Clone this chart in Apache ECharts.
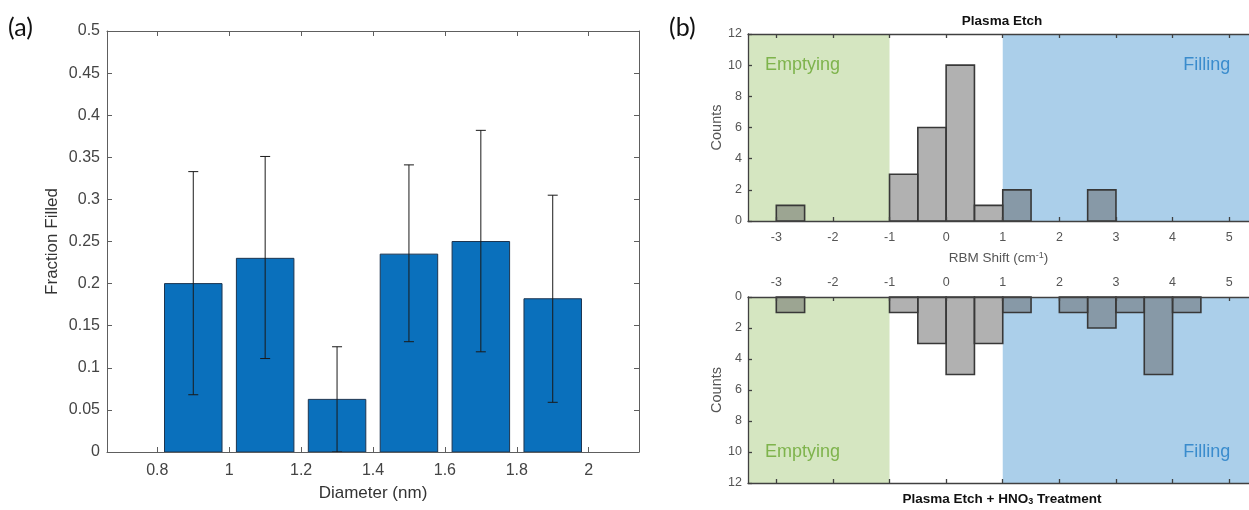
<!DOCTYPE html>
<html>
<head>
<meta charset="utf-8">
<script src="https://cdn.jsdelivr.net/npm/echarts@6/dist/echarts.min.js"></script>
<style>
  html, body { margin: 0; padding: 0; background: #fff; }
  #chart { width: 1249px; height: 510px; }
</style>
</head>
<body>
<div id="chart"></div>
<script>
// ---- Panel (a): fraction filled vs. tube diameter ----
const diameters      = [0.9, 1.1, 1.3, 1.5, 1.7, 1.9];
const fractionFilled = [0.2, 0.23, 0.0625, 0.235, 0.25, 0.182];
const errUpper       = [0.333, 0.351, 0.125, 0.341, 0.382, 0.305];
const errLower       = [0.068, 0.111, 0, 0.131, 0.119, 0.059];
const diameterTicks  = [0.8, 1, 1.2, 1.4, 1.6, 1.8, 2];

// ---- Panel (b): RBM shift histograms (bin start, 0.5 cm^-1 wide) ----
const etchBinStart = [-3, -1, -0.5, 0, 0.5, 1, 2.5];
const etchCounts   = [1, 3, 6, 10, 1, 2, 2];
const hno3BinStart = [-3, -1, -0.5, 0, 0.5, 1, 2, 2.5, 3, 3.5, 4];
const hno3Counts   = [1, 1, 3, 5, 3, 1, 1, 2, 1, 5, 1];
const shiftTicks   = [-3, -2, -1, 0, 1, 2, 3, 4, 5];
const regionNames  = ['Emptying', 'Filling'];
const regionStart  = [-3.5, 1];
const regionEnd    = [-1, 5.5];

const BIN = 0.5;
const BAR_W = 0.16;
const SHIFT_MIN = -3.5, SHIFT_MAX = 5.35;   // visible part of the shift axis
const FONT = '"Liberation Sans", Arial, sans-serif';

const regionFill = { Emptying: '#d5e6c1', Filling: '#abcfea' };
const regionText = { Emptying: '#7eb34c', Filling: '#3a8ccd' };

const chart = echarts.init(document.getElementById('chart'), null, { renderer: 'canvas' });

function histData(starts, counts) {
  return starts.map((s, i) => [s, s + BIN, counts[i]]);
}
const regionData = regionNames.map((n, i) => [regionStart[i], regionEnd[i], n]);

// Histogram bin: translucent grey box with dark outline
function renderBin(params, api) {
  const p0 = api.coord([api.value(0), 0]);
  const p1 = api.coord([api.value(1), api.value(2)]);
  return {
    type: 'rect',
    shape: {
      x: Math.min(p0[0], p1[0]), y: Math.min(p0[1], p1[1]),
      width: Math.abs(p1[0] - p0[0]), height: Math.abs(p1[1] - p0[1])
    },
    style: { fill: 'rgba(100,100,100,0.5)', stroke: '#383838', lineWidth: 1.6 }
  };
}

// Shaded Emptying / Filling band with its caption at count 10
function renderRegion(params, api) {
  const name = regionData[params.dataIndex][2];
  const a = api.coord([api.value(0), 0]);
  const b = api.coord([api.value(1), 12]);
  const left = name === 'Emptying';
  const tp = api.coord([left ? api.value(0) + 0.3 : api.value(1) - 0.48, 10]);
  return {
    type: 'group',
    children: [
      {
        type: 'rect',
        shape: { x: Math.min(a[0], b[0]), y: Math.min(a[1], b[1]),
                 width: Math.abs(b[0] - a[0]), height: Math.abs(b[1] - a[1]) },
        style: { fill: regionFill[name] }
      },
      {
        type: 'text',
        x: tp[0], y: tp[1],
        style: { text: name, fontFamily: FONT, fontSize: 18, fill: regionText[name],
                 align: left ? 'left' : 'right', verticalAlign: 'middle' }
      }
    ]
  };
}

function renderBar(params, api) {
  const x = api.value(0);
  const p0 = api.coord([x - BAR_W / 2, 0]);
  const p1 = api.coord([x + BAR_W / 2, api.value(1)]);
  return {
    type: 'rect',
    shape: { x: p0[0], y: p1[1], width: p1[0] - p0[0], height: p0[1] - p1[1] },
    style: { fill: '#0a70bc', stroke: '#1d3550', lineWidth: 1 }
  };
}

function renderErr(params, api) {
  const x = api.value(0);
  const lo = api.coord([x, api.value(1)]);
  const hi = api.coord([x, api.value(2)]);
  const cap = 5;
  const ls = { stroke: '#1a1a1a', lineWidth: 1 };
  return {
    type: 'group',
    children: [
      { type: 'line', shape: { x1: lo[0], y1: lo[1], x2: hi[0], y2: hi[1] }, style: ls },
      { type: 'line', shape: { x1: hi[0] - cap, y1: hi[1], x2: hi[0] + cap, y2: hi[1] }, style: ls },
      { type: 'line', shape: { x1: lo[0] - cap, y1: lo[1], x2: lo[0] + cap, y2: lo[1] }, style: ls }
    ]
  };
}

const axA = { lineStyle: { color: '#5e5e5e', width: 1 } };
const axB = { lineStyle: { color: '#404040', width: 1.3 } };

const shiftX = (gridIndex, pos, showLabels, withName) => ({
  type: 'value', gridIndex, position: pos, min: SHIFT_MIN, max: SHIFT_MAX, z: 10,
  axisLine: { show: true, onZero: false, ...axB },
  splitLine: { show: false },
  axisTick: { show: true, inside: true, length: 4, customValues: shiftTicks, lineStyle: { color: '#404040', width: 1.3 } },
  axisLabel: { show: showLabels, customValues: shiftTicks, margin: pos === 'top' ? 8 : 10,
               color: '#555', fontFamily: FONT, fontSize: 12.5 },
  name: withName ? '{n|RBM Shift (cm}{s|-1}{n|)}' : '',
  nameLocation: 'middle', nameGap: 30,
  nameTextStyle: { rich: {
    n: { fontFamily: FONT, fontSize: 13.5, color: '#555' },
    s: { fontFamily: FONT, fontSize: 9, color: '#555', verticalAlign: 'top', padding: [0, 0, 6, 0] }
  } }
});

const countY = (gridIndex, inverse) => ({
  type: 'value', gridIndex, min: 0, max: 12, interval: 2, inverse, z: 10,
  axisLine: { show: true, onZero: false, ...axB },
  splitLine: { show: false },
  axisTick: { show: true, inside: true, length: 4, lineStyle: { color: '#404040', width: 1.3 } },
  axisLabel: { margin: 6, color: '#555', fontFamily: FONT, fontSize: 12.5 },
  name: 'Counts', nameLocation: 'middle', nameGap: 24,
  nameTextStyle: { fontFamily: FONT, fontSize: 14.5, color: '#555' }
});

const option = {
  animation: false,
  backgroundColor: '#fff',
  grid: [
    { left: 107, top: 31, width: 532, height: 421 },
    { left: 748, top: 34, right: 0, height: 187 },
    { left: 748, top: 297, right: 0, height: 186 }
  ],
  xAxis: [
    {
      type: 'value', gridIndex: 0, position: 'bottom', min: 0.66, max: 2.14, z: 10,
      axisLine: { show: true, onZero: false, ...axA },
      splitLine: { show: false },
      axisTick: { show: true, inside: true, length: 5, customValues: diameterTicks, lineStyle: { color: '#5e5e5e' } },
      axisLabel: { customValues: diameterTicks, margin: 11, color: '#444', fontFamily: FONT, fontSize: 16 },
      name: 'Diameter (nm)', nameLocation: 'middle', nameGap: 33,
      nameTextStyle: { fontFamily: FONT, fontSize: 17, color: '#333' }
    },
    {
      type: 'value', gridIndex: 0, position: 'top', min: 0.66, max: 2.14, z: 10,
      axisLine: { show: true, onZero: false, ...axA },
      splitLine: { show: false },
      axisTick: { show: true, inside: true, length: 5, customValues: diameterTicks, lineStyle: { color: '#5e5e5e' } },
      axisLabel: { show: false }
    },
    shiftX(1, 'bottom', true, true),
    shiftX(1, 'top', false, false),
    shiftX(2, 'top', true, false),
    shiftX(2, 'bottom', false, false)
  ],
  yAxis: [
    {
      type: 'value', gridIndex: 0, position: 'left', min: 0, max: 0.5, interval: 0.05, z: 10,
      axisLine: { show: true, onZero: false, ...axA },
      splitLine: { show: false },
      axisTick: { show: true, inside: true, length: 5, lineStyle: { color: '#5e5e5e' } },
      axisLabel: { margin: 7, color: '#444', fontFamily: FONT, fontSize: 16 },
      name: 'Fraction Filled', nameLocation: 'middle', nameGap: 46,
      nameTextStyle: { fontFamily: FONT, fontSize: 17, color: '#333' }
    },
    {
      type: 'value', gridIndex: 0, position: 'right', min: 0, max: 0.5, interval: 0.05, z: 10,
      axisLine: { show: true, onZero: false, ...axA },
      splitLine: { show: false },
      axisTick: { show: true, inside: true, length: 5, lineStyle: { color: '#5e5e5e' } },
      axisLabel: { show: false }
    },
    countY(1, false),
    countY(2, true)
  ],
  series: [
    {
      type: 'custom', xAxisIndex: 0, yAxisIndex: 0, z: 2,
      renderItem: renderBar,
      data: diameters.map((d, i) => [d, fractionFilled[i]])
    },
    {
      type: 'custom', xAxisIndex: 0, yAxisIndex: 0, z: 3,
      renderItem: renderErr,
      data: diameters.map((d, i) => [d, errLower[i], errUpper[i]])
    },
    { type: 'custom', xAxisIndex: 2, yAxisIndex: 2, z: 1, renderItem: renderRegion,
      encode: { x: [0, 1] }, data: regionData },
    { type: 'custom', xAxisIndex: 4, yAxisIndex: 3, z: 1, renderItem: renderRegion,
      encode: { x: [0, 1] }, data: regionData },
    { type: 'custom', xAxisIndex: 2, yAxisIndex: 2, z: 2, renderItem: renderBin,
      encode: { x: [0, 1], y: 2 }, data: histData(etchBinStart, etchCounts) },
    { type: 'custom', xAxisIndex: 4, yAxisIndex: 3, z: 2, renderItem: renderBin,
      encode: { x: [0, 1], y: 2 }, data: histData(hno3BinStart, hno3Counts) }
  ],
  graphic: [
    { type: 'text', x: 8, y: 28, style: { text: '(a)', fontFamily: 'Lato, "Open Sans", sans-serif', fontSize: 25, fill: '#111', align: 'left', verticalAlign: 'middle' } },
    { type: 'text', x: 669, y: 28, style: { text: '(b)', fontFamily: 'Lato, "Open Sans", sans-serif', fontSize: 25, fill: '#111', align: 'left', verticalAlign: 'middle' } },
    { type: 'text', x: 1002, y: 21, style: { text: 'Plasma Etch', fontFamily: FONT, fontWeight: 'bold', fontSize: 13.5, fill: '#111', align: 'center', verticalAlign: 'middle' } },
    { type: 'text', x: 1002, y: 499, style: {
        text: '{b|Plasma Etch + HNO}{s|3}{b| Treatment}', align: 'center', verticalAlign: 'middle',
        rich: {
          b: { fontFamily: FONT, fontWeight: 'bold', fontSize: 13.5, fill: '#111', color: '#111' },
          s: { fontFamily: FONT, fontWeight: 'bold', fontSize: 9, fill: '#111', color: '#111', verticalAlign: 'bottom', padding: [6, 0, 0, 0] }
        } } }
  ]
};

chart.setOption(option);
</script>
</body>
</html>
